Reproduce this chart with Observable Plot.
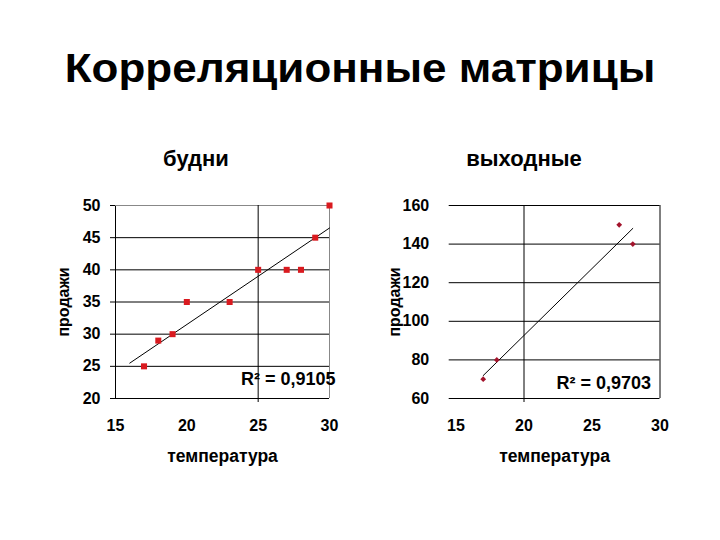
<!DOCTYPE html>
<html><head><meta charset="utf-8">
<script src="https://cdn.jsdelivr.net/npm/d3@7"></script>
<script src="https://cdn.jsdelivr.net/npm/@observablehq/plot@0.6"></script>
<style>
body{margin:0;background:#fff;font-family:"Liberation Sans",Arial,sans-serif;}
#root{position:relative;width:720px;height:540px;overflow:hidden;background:#fff;}
.t{position:absolute;font-weight:bold;color:#000;white-space:nowrap;line-height:1;}
.p{position:absolute;}
</style></head><body><div id="root"></div>
<script>
// ---- data ----
const pageTitle = "Корреляционные матрицы";
const panelTitles = ["будни", "выходные"];
const xLabel = "температура";
const yLabel = "продажи";

const temperatureWeekday = [17, 18, 19, 20, 23, 25, 27, 28, 29, 30];
const salesWeekday       = [25, 29, 30, 35, 35, 40, 40, 40, 45, 50];
const temperatureWeekend = [17, 18, 27, 28];
const salesWeekend       = [70, 80, 150, 140];

const xTicks = [15, 20, 25, 30];
const yTicksWeekday = [20, 25, 30, 35, 40, 45, 50];
const yTicksWeekend = [60, 80, 100, 120, 140, 160];
const trendBackward = [1, 0]; // Excel trendline backward forecast (units)

// ---- helpers ----
function regression(xs, ys) {
  const mx = d3.mean(xs), my = d3.mean(ys);
  let sxy = 0, sxx = 0, syy = 0;
  xs.forEach((x, i) => { const dx = x - mx, dy = ys[i] - my; sxy += dx*dy; sxx += dx*dx; syy += dy*dy; });
  const slope = sxy / sxx;
  return {slope, intercept: my - slope*mx, r2: (sxy*sxy)/(sxx*syy)};
}
const fmtR2 = v => "R² = " + v.toFixed(4).replace(".", ",");

const root = document.getElementById("root");
function addText(txt, cls, style) {
  const d = document.createElement("div");
  d.className = cls; d.textContent = txt;
  Object.assign(d.style, style);
  root.appendChild(d);
  return d;
}

const FONT = "Liberation Sans, Arial, sans-serif";

function panel(opts) {
  const {xs, ys, yTicks, backward, xDomain, marker, color, r, cross, borderColor, yAxisLine, ml, mr, tickSize, tickPad, r2dx, r2dy, yLabelDx} = opts;
  const reg = regression(xs, ys);
  const x0 = d3.min(xs) - backward, x1 = d3.max(xs);
  const trend = [x0, x1].map(x => ({x, y: reg.intercept + reg.slope * x}));
  const pts = xs.map((x, i) => ({x, y: ys[i]}));
  const yMin = d3.min(yTicks), yMax = d3.max(yTicks);
  const marks = [
    Plot.ruleY(yTicks.slice(0, -1), {stroke: "#000", strokeWidth: 1}),
    Plot.ruleY([yMax], {stroke: borderColor, strokeWidth: 1}),
    Plot.ruleX([xDomain[1]], {stroke: borderColor, strokeWidth: 1}),
    Plot.ruleX([cross], {stroke: "#000", strokeWidth: 1, insetBottom: -4}),
    Plot.axisY({ticks: yTicks, tickSize, tickPadding: tickPad, fontSize: 16, fontWeight: "bold", label: null}),
    Plot.axisX({ticks: xTicks, tickSize: 0, tickPadding: 21, fontSize: 16, fontWeight: "bold", label: null}),
    Plot.text([xLabel], {text: d => d, frameAnchor: "bottom", dy: 63, fontSize: 17.5, fontWeight: "bold", fill: "#000"}),
    Plot.text([yLabel], {text: d => d, frameAnchor: "left", textAnchor: "middle", dx: yLabelDx, rotate: -90, fontSize: 16, fontWeight: "bold", fill: "#000"}),
    Plot.line(trend, {x: "x", y: "y", stroke: "#000", strokeWidth: 1}),
    Plot.dot(pts, {x: "x", y: "y", symbol: marker, r, fill: color, stroke: "none"}),
    Plot.text([fmtR2(reg.r2)], {text: d => d, frameAnchor: "bottom-right", textAnchor: "end",
      dx: r2dx, dy: r2dy, fontSize: 18, fontWeight: "bold", fill: "#000"})
  ];
  if (yAxisLine) marks.splice(1, 0, Plot.ruleX([xDomain[0]], {stroke: "#000", strokeWidth: 1}));
  return Plot.plot({
    width: 350, height: 350,
    marginLeft: ml, marginRight: mr, marginTop: 75, marginBottom: 82,
    style: {fontFamily: FONT, color: "#000", background: "transparent", overflow: "visible"},
    x: {domain: xDomain},
    y: {domain: [yMin, yMax]},
    marks
  });
}

// title + panel titles
addText(pageTitle, "t", {fontSize: "40px", left: "0", width: "720px", textAlign: "center", top: "48px", transform: "scaleX(1.1)", transformOrigin: "360px 0"});
addText(panelTitles[0], "t", {fontSize: "22px", left: "96px", width: "200px", textAlign: "center", top: "148px"});
addText(panelTitles[1], "t", {fontSize: "22px", left: "424px", width: "200px", textAlign: "center", top: "148px"});

const left = panel({
  xs: temperatureWeekday, ys: salesWeekday, yTicks: yTicksWeekday, backward: trendBackward[0],
  xDomain: [15, 30], marker: "square", color: "#d91a1f", r: 3.4, cross: 25, borderColor: "#888",
  yAxisLine: true, ml: 115, mr: 21, tickSize: 5, tickPad: 10, r2dx: 6, r2dy: -14, yLabelDx: -52
});
left.classList.add("p"); left.style.left = "0px"; left.style.top = "130px";
root.appendChild(left);

const right = panel({
  xs: temperatureWeekend, ys: salesWeekend, yTicks: yTicksWeekend, backward: trendBackward[1],
  xDomain: [14.5, 30], marker: "diamond2", color: "#a3142c", r: 2.6, cross: 20, borderColor: "#000",
  yAxisLine: false, ml: 88.7, mr: 50.5, tickSize: 0, tickPad: 20, r2dx: -9, r2dy: -10, yLabelDx: -54
});
right.classList.add("p"); right.style.left = "360px"; right.style.top = "130px";
root.appendChild(right);
</script>
</body></html>
